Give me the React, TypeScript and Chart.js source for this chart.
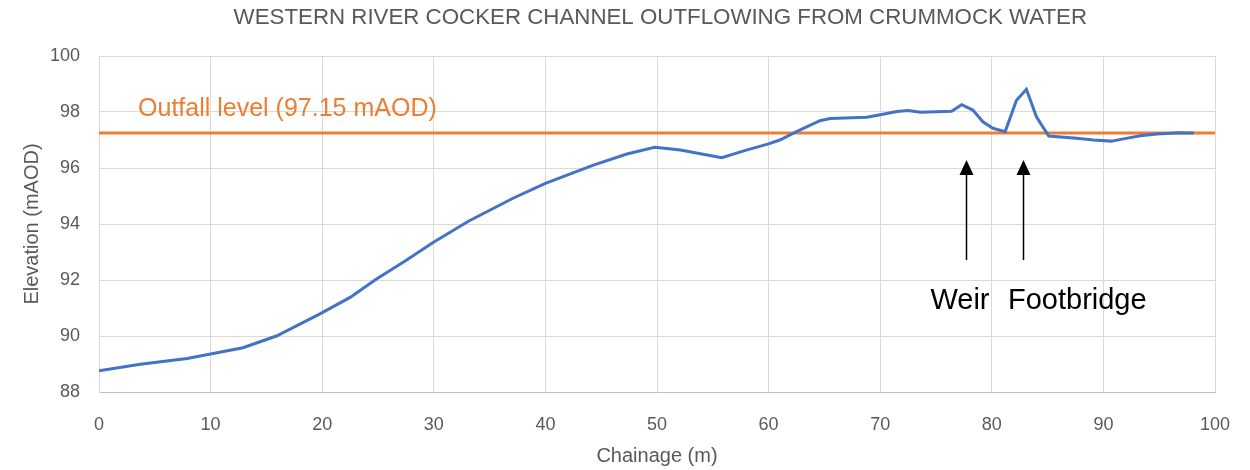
import React, { useEffect, useRef } from "react";
import { Chart, registerables } from "chart.js";

Chart.register(...registerables);

const TITLE = "WESTERN RIVER COCKER CHANNEL OUTFLOWING FROM CRUMMOCK WATER";
const X_TITLE = "Chainage (m)";
const Y_TITLE = "Elevation (mAOD)";

// Channel long-section (chainage m, elevation mAOD)
const chainage = [
  0, 3.7, 7.9, 10, 12.9, 15.9, 19.8, 22.5, 24.8, 27.5, 29.9, 33.1, 37.1, 40.0,
  44.3, 47.3, 49.8, 52.1, 55.8, 58.0, 60.0, 61.0, 62.5, 64.6, 65.5, 68.8, 70.0,
  71.5, 72.5, 73.6, 76.4, 77.3, 78.3, 79.2, 80.1, 81.2, 82.2, 83.1, 84.0, 85.1,
  87.6, 89.1, 90.7, 91.8, 93.3, 94.8, 96.9, 98.1,
];
const elevation = [
  88.76, 88.99, 89.2, 89.36, 89.58, 90.0, 90.79, 91.38, 92.02, 92.7, 93.33,
  94.1, 94.92, 95.45, 96.1, 96.5, 96.74, 96.64, 96.37, 96.64, 96.86, 97.0, 97.3,
  97.69, 97.77, 97.81, 97.9, 98.02, 98.05, 97.99, 98.03, 98.26, 98.07, 97.65,
  97.42, 97.3, 98.41, 98.81, 97.83, 97.14, 97.06, 97.0, 96.96, 97.04, 97.15,
  97.21, 97.26, 97.25,
];

// Outfall level line
const outfallX = [0, 100];
const outfallY = [97.25, 97.25];
const OUTFALL_LABEL = "Outfall level (97.15 mAOD)";

// Annotations
const arrowLabels = ["Weir", "Footbridge"];
const arrowX = [77.7, 82.8];
const arrowLabelX = [74.5, 81.45];
const ARROW_TIP_Y = 96.29;
const ARROW_TAIL_Y = 92.71;
const LABEL_Y = 91.25;
const OUTFALL_LABEL_X = 3.5;
const OUTFALL_LABEL_Y = 98.12;

const FONT = "'Liberation Sans', Arial, sans-serif";

export default function App() {
  const ref = useRef<HTMLCanvasElement | null>(null);

  useEffect(() => {
    const canvas = ref.current;
    if (!canvas) return;

    const annotate = {
      id: "annotate",
      afterDatasetsDraw(chart: any) {
        const { ctx, scales } = chart;
        const xs = scales.x;
        const ys = scales.y;
        ctx.save();
        // outfall label
        ctx.fillStyle = "#ED7D31";
        ctx.font = `25px ${FONT}`;
        ctx.textAlign = "left";
        ctx.textBaseline = "middle";
        ctx.fillText(
          OUTFALL_LABEL,
          xs.getPixelForValue(OUTFALL_LABEL_X),
          ys.getPixelForValue(OUTFALL_LABEL_Y)
        );
        // arrows
        ctx.strokeStyle = "#000";
        ctx.fillStyle = "#000";
        ctx.lineWidth = 1.5;
        arrowX.forEach((ax) => {
          const px = Math.round(xs.getPixelForValue(ax)) + 0.5;
          const tip = ys.getPixelForValue(ARROW_TIP_Y);
          const tail = ys.getPixelForValue(ARROW_TAIL_Y);
          ctx.beginPath();
          ctx.moveTo(px, tail);
          ctx.lineTo(px, tip + 12);
          ctx.stroke();
          ctx.beginPath();
          ctx.moveTo(px, tip);
          ctx.lineTo(px - 7, tip + 15);
          ctx.lineTo(px + 7, tip + 15);
          ctx.closePath();
          ctx.fill();
        });
        // arrow labels
        ctx.font = `29px ${FONT}`;
        ctx.textBaseline = "middle";
        arrowLabels.forEach((t, i) => {
          ctx.fillText(t, xs.getPixelForValue(arrowLabelX[i]), ys.getPixelForValue(LABEL_Y));
        });
        // title
        ctx.fillStyle = "#595959";
        ctx.font = `22.3px ${FONT}`;
        ctx.textAlign = "center";
        ctx.fillText(TITLE, xs.getPixelForValue(50.3), 18);
        ctx.restore();
      },
    };

    const chart = new Chart(canvas, {
      type: "scatter",
      data: {
        datasets: [
          {
            label: "Channel",
            data: chainage.map((x, i) => ({ x, y: elevation[i] })),
            showLine: true,
            borderColor: "#4472C4",
            backgroundColor: "#4472C4",
            borderWidth: 3,
            pointRadius: 0,
            tension: 0,
          },
          {
            label: "Outfall",
            data: outfallX.map((x, i) => ({ x, y: outfallY[i] })),
            showLine: true,
            borderColor: "#ED7D31",
            backgroundColor: "#ED7D31",
            borderWidth: 3,
            pointRadius: 0,
          },
        ],
      },
      options: {
        responsive: false,
        animation: false,
        devicePixelRatio: 1,
        layout: { padding: { top: 56, right: 35, left: 0, bottom: 0 } },
        plugins: {
          legend: { display: false },
          tooltip: { enabled: false },
          title: { display: false },
        },
        scales: {
          x: {
            type: "linear",
            min: 0,
            max: 100,
            ticks: {
              stepSize: 10,
              color: "#595959",
              font: { family: FONT, size: 18 },
              padding: 22,
            },
            grid: { color: "#D9D9D9", drawTicks: false, lineWidth: 1 },
            border: { color: "#BFBFBF", width: 1 },
            title: {
              display: true,
              text: X_TITLE,
              color: "#595959",
              font: { family: FONT, size: 20 },
              padding: { top: 0, bottom: 2 },
            },
            afterFit: (s: any) => {
              s.height = 78;
              s.paddingLeft = 0;
              s.paddingRight = 0;
            },
          },
          y: {
            type: "linear",
            min: 88,
            max: 100,
            ticks: {
              stepSize: 2,
              color: "#595959",
              font: { family: FONT, size: 18 },
              padding: 19,
            },
            grid: { color: "#D9D9D9", drawTicks: false, lineWidth: 1 },
            border: { color: "#D9D9D9", width: 1 },
            title: {
              display: true,
              text: Y_TITLE,
              color: "#595959",
              font: { family: FONT, size: 20 },
              padding: { top: 20, bottom: 0 },
            },
            afterFit: (s: any) => {
              s.width = 99;
              s.paddingTop = 0;
              s.paddingBottom = 0;
            },
          },
        },
      },
      plugins: [annotate],
    });

    return () => chart.destroy();
  }, []);

  return (
    <div style={{ position: "fixed", left: 0, top: 0, width: 1250, height: 470, background: "#fff" }}>
      <canvas ref={ref} width={1250} height={470} style={{ display: "block" }} />
    </div>
  );
}
